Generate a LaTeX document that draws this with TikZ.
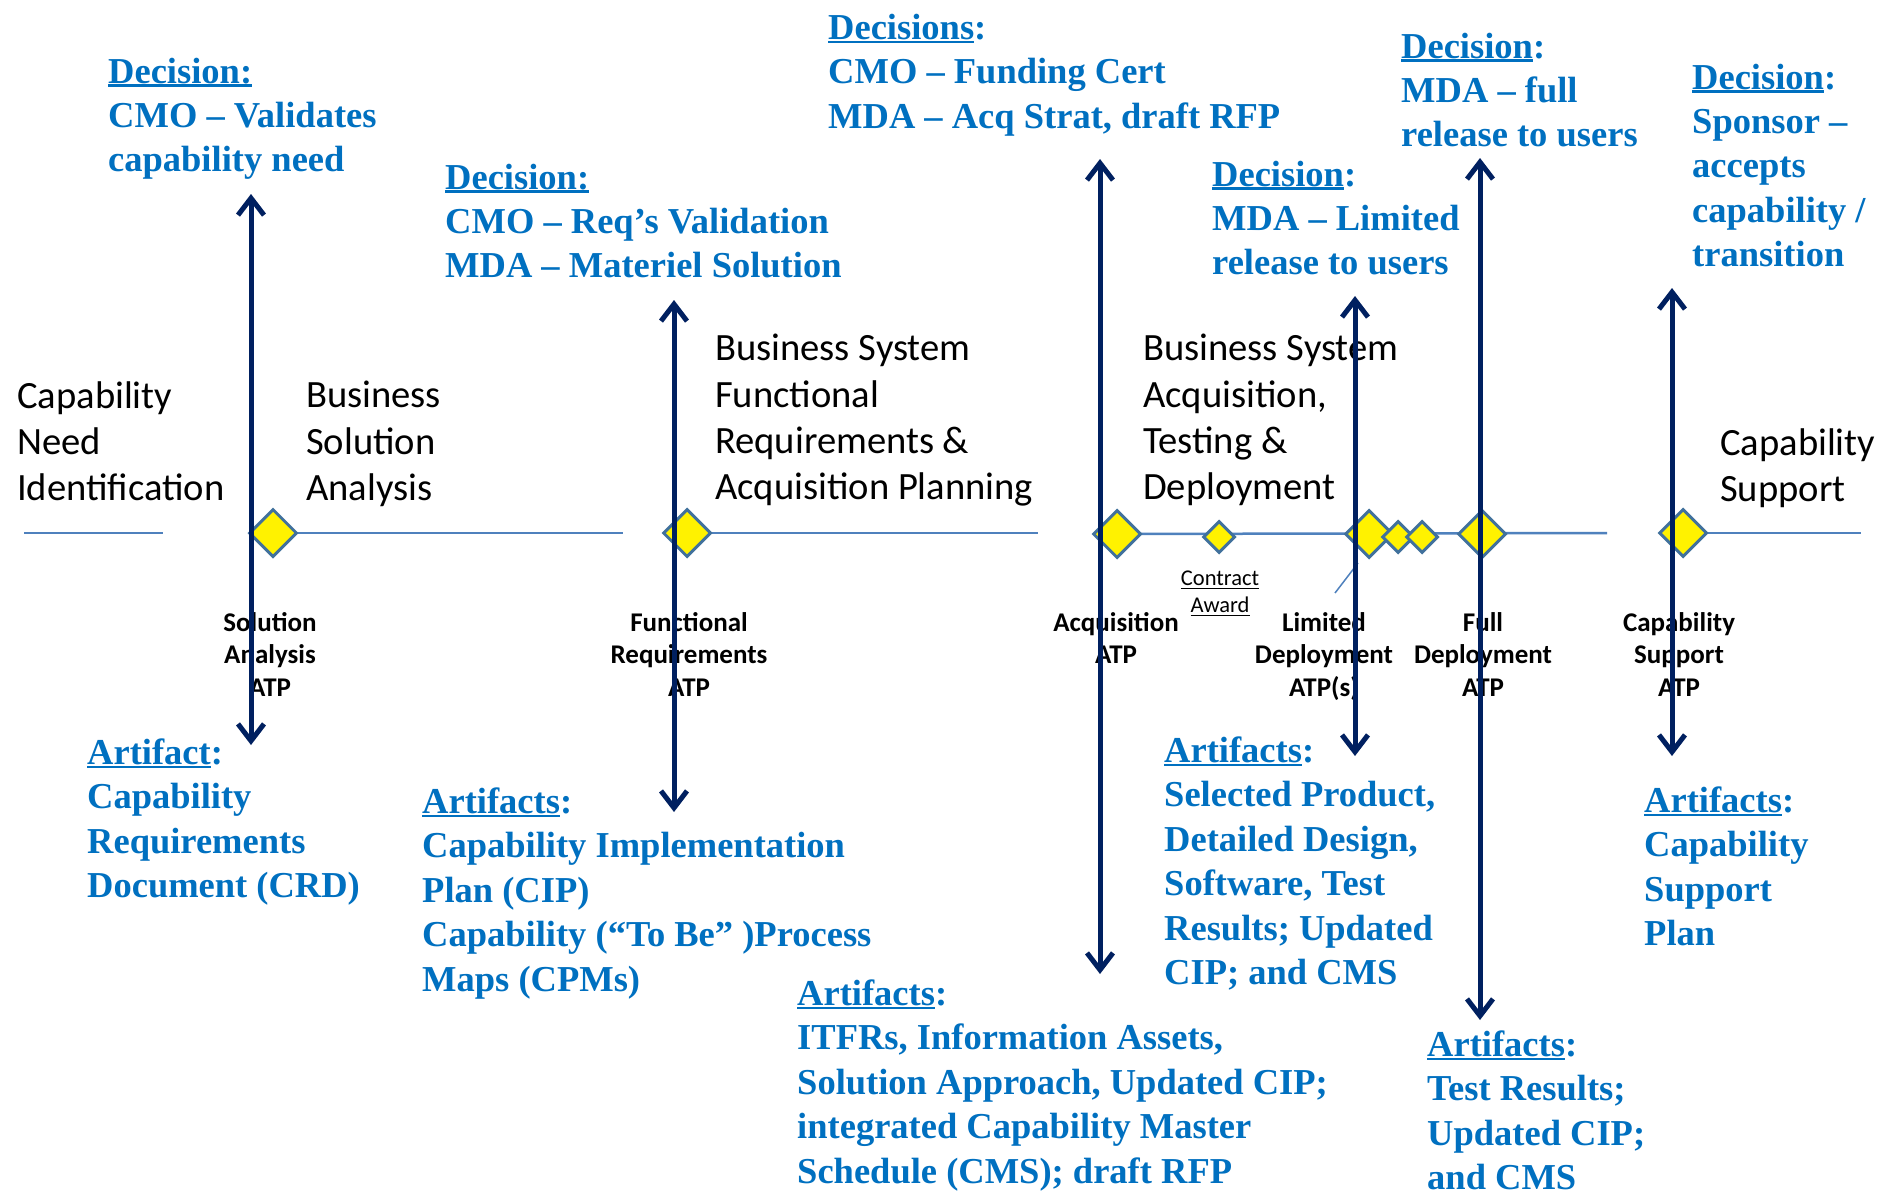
\documentclass[tikz,border=0pt]{standalone}
\usepackage{fontspec}
\setmainfont{Liberation Serif}
\newfontfamily\carl{Carlito}
\usetikzlibrary{arrows.meta,shapes.geometric}
\definecolor{txtblue}{HTML}{0070C0}
\definecolor{navy}{HTML}{002060}
\definecolor{hline}{HTML}{4F81BD}
\definecolor{dborder}{HTML}{41719C}
\newcommand{\ulb}[1]{\setbox0\hbox{#1}\rlap{\rule[-3.5pt]{\wd0}{2.2pt}}\box0}
\newcommand{\uls}[1]{\setbox0\hbox{#1}\rlap{\rule[-3pt]{\wd0}{1.3pt}}\box0}
\pgfdeclarelayer{bg}
\pgfsetlayers{bg,main}
\begin{document}
\begin{tikzpicture}[x=1pt,y=-1pt,
  blue/.style={anchor=north west, inner sep=0pt, align=left, text=txtblue,
    font=\fontsize{36.5}{44.4}\selectfont\bfseries, execute at begin node=\strut},
  phase/.style={anchor=north west, inner sep=0pt, align=left,
    font=\carl\fontsize{38.6}{46.4}\selectfont, execute at begin node=\strut},
  atp/.style={anchor=north, inner sep=0pt, align=center,
    font=\carl\bfseries\fontsize{27}{32.2}\selectfont, execute at begin node=\strut},
  small/.style={anchor=north, inner sep=0pt, align=center,
    font=\carl\fontsize{22.5}{27}\selectfont, execute at begin node=\strut},
  dia/.style={diamond, aspect=1, draw=dborder, fill=yellow, line width=3pt, inner sep=0pt, minimum size=48pt},
  sdia/.style={dia, minimum size=32pt},
  vline/.style={draw=navy, line width=5pt, {Straight Barb[length=17pt,width=26pt]}-{Straight Barb[length=17pt,width=26pt]}},
  hl/.style={draw=hline, line width=2.5pt},
  thin/.style={draw=hline, line width=1.5pt}]
\useasboundingbox (0,0) rectangle (1882,1191);
\begin{pgfonlayer}{bg}
\fill[white] (0,0) rectangle (1882,1191);
\end{pgfonlayer}

% phase labels
\node[phase] (p1) at (17,381) {Capability\\Need\\Identification};
\node[phase] (p2) at (306,381) {Business\\Solution\\Analysis};
\node[phase] (p3) at (715,334) {Business System\\Functional\\Requirements \&\\Acquisition Planning};
\node[phase] (p4) at (1143,334) {Business System\\Acquisition,\\Testing \&\\Deployment};
\node[phase] (p5) at (1720,428) {Capability\\Support};

% decision texts
\node[blue] (b1) at (108,57.5) {\ulb{Decision:}\\CMO – Validates\\capability need};
\node[blue] (b2) at (445,163.5) {\ulb{Decision:}\\CMO – Req’s Validation\\MDA – Materiel Solution};
\node[blue] (b3) at (828,14) {\ulb{Decisions}:\\CMO – Funding Cert\\MDA – Acq Strat, draft RFP};
\node[blue] (b4) at (1212,160.5) {\ulb{Decision}:\\MDA – Limited\\release to users};
\node[blue] (b5) at (1401,32.5) {\ulb{Decision}:\\MDA – full\\release to users};
\node[blue] (b6) at (1692,63.5) {\ulb{Decision}:\\Sponsor –\\accepts\\capability /\\transition};

% artifact texts
\node[blue] (a1) at (87,738.5) {\ulb{Artifact}:\\Capability\\Requirements\\Document (CRD)};
\node[blue] (a2) at (422,787.5) {\ulb{Artifacts}:\\Capability Implementation\\Plan (CIP)\\Capability (“To Be” )Process\\Maps (CPMs)};
\node[blue] (a3) at (797,979.5) {\ulb{Artifacts}:\\ITFRs, Information Assets,\\Solution Approach, Updated CIP;\\integrated Capability Master\\Schedule (CMS); draft RFP};
\node[blue] (a4) at (1164,736.5) {\ulb{Artifacts}:\\Selected Product,\\Detailed Design,\\Software, Test\\Results; Updated\\CIP; and CMS};
\node[blue] (a5) at (1427,1030.5) {\ulb{Artifacts}:\\Test Results;\\Updated CIP;\\and CMS};
\node[blue] (a6) at (1644,786.5) {\ulb{Artifacts}:\\Capability\\Support\\Plan};

% ATP labels
\node[atp] (l1) at (270,612.5) {Solution\\Analysis\\ATP};
\node[atp] (l2) at (689,612.5) {Functional\\Requirements\\ATP};
\node[atp] (l3) at (1116,612.5) {Acquisition\\ATP};
\node[atp] (l4) at (1324,612.5) {Limited\\Deployment\\ATP(s)};
\node[atp] (l5) at (1483,612.5) {Full\\Deployment\\ATP};
\node[atp] (l6) at (1679,612.5) {Capability\\Support\\ATP};
\node[small] (ca) at (1220,571) {\uls{Contract}\\\uls{Award}};

% diamonds
\node[dia] (d1) at (273,533) {};
\node[dia] (d2) at (687,533) {};
\node[dia] (d3) at (1117,534) {};
\node[sdia] (dc) at (1219,537) {};
\node[dia] (d4) at (1369,534) {};
\node[sdia] (d4b) at (1398,537) {};
\node[sdia] (d4c) at (1422,537) {};
\node[dia] (d5) at (1482,534) {};
\node[dia] (d6) at (1683,533) {};

% timeline
\coordinate (h1a) at (24,533);
\coordinate (h1b) at (163,533);
\coordinate (h2b) at (623,533);
\coordinate (h3b) at (1038,533);
\coordinate (h4b) at (1607,533);
\coordinate (h5b) at (1861,533);
\coordinate (s1) at (1358,563);
\coordinate (s2) at (1335,593);
\begin{pgfonlayer}{bg}
\draw[hl] (h1a) -- (h1b);
\draw[hl] (d1.center) -- (h2b);
\draw[hl] (d2.center) -- (h3b);
\draw[hl] (d3.center) -- (h4b);
\draw[hl] (d6.center) -- (h5b);
\end{pgfonlayer}
\draw[thin] (s1) -- (s2);

% vertical arrows
\coordinate (t1) at (251,194);  \coordinate (u1) at (251,745);
\coordinate (t2) at (674,300);  \coordinate (u2) at (674,812);
\coordinate (t3) at (1100,159); \coordinate (u3) at (1100,974);
\coordinate (t4) at (1355,296); \coordinate (u4) at (1355,756);
\coordinate (t5) at (1480,158); \coordinate (u5) at (1480,1020);
\coordinate (t6) at (1672,288); \coordinate (u6) at (1672,756);
\draw[vline] (t1) -- (u1);
\draw[vline] (t2) -- (u2);
\draw[vline] (t3) -- (u3);
\draw[vline] (t4) -- (u4);
\draw[vline] (t5) -- (u5);
\draw[vline] (t6) -- (u6);
\end{tikzpicture}
\end{document}
